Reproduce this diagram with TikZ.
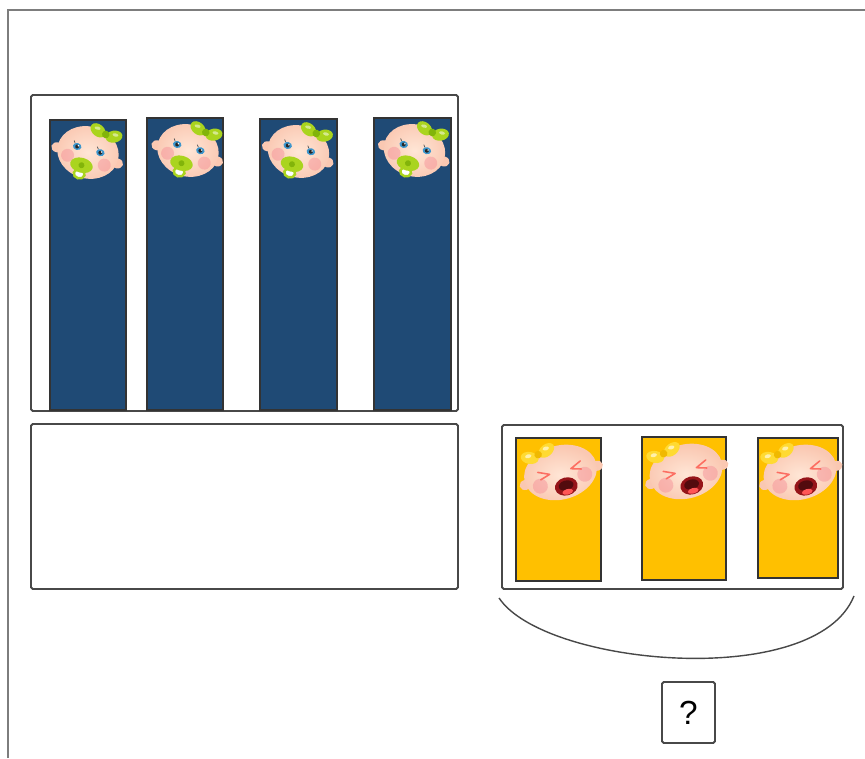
\documentclass[tikz,border=0pt]{standalone}
\usepackage{fontspec}
\setsansfont{Liberation Sans}
\usetikzlibrary{calc,fit}
\definecolor{barblue}{RGB}{31,74,117}
\definecolor{baryellow}{RGB}{255,192,0}
\definecolor{boxgray}{RGB}{72,72,72}
\definecolor{framegray}{RGB}{125,125,125}
\definecolor{skin}{RGB}{250,200,178}
\definecolor{skinlight}{RGB}{255,230,214}
\definecolor{cheekpink}{RGB}{245,140,150}
\definecolor{eyeblue}{RGB}{60,150,205}
\definecolor{bowgreen}{RGB}{170,212,30}
\definecolor{bowgreendark}{RGB}{130,180,10}
\definecolor{bowyellow}{RGB}{255,218,50}
\definecolor{bowyellowdark}{RGB}{240,185,0}
\definecolor{mouthred}{RGB}{150,20,25}
\tikzset{
  outerbox/.style={draw=boxgray, line width=1.1pt, inner sep=0pt, rounded corners=1pt},
  bluebar/.style={draw=black!80, fill=barblue, line width=0.6pt, inner sep=0pt},
  yellowbar/.style={bluebar, fill=baryellow},
  qbox/.style={outerbox, minimum width=1.06cm, minimum height=1.22cm,
               font=\sffamily\fontsize{19}{22}\selectfont},
  frameline/.style={draw=framegray, line width=1.2pt},
  brace/.style={draw=boxgray, line width=0.8pt},
  skinfill/.style={inner color=skinlight, outer color=skin},
  cheek/.style={fill=cheekpink, opacity=0.45},
  eyeline/.style={draw=red!45!skin, line width=0.9pt, line cap=round, line join=round},
  % calm baby with a pacifier, units are pixels, y pointing down
  pacibaby/.pic={
    \fill[skin] (-31,3) ellipse (6 and 5);
    \fill[skin] (31,3) ellipse (6 and 5);
    \shade[skinfill] (0,0) ellipse (31 and 26);
    \fill[cheek] (-19,8) circle (6.5);
    \fill[cheek] (19,8) circle (6.5);
    \foreach \ex in {-12,12} {
      \fill[eyeblue] (\ex,-3) ellipse (4.3 and 3.5);
      \fill[black!85] (\ex,-3) circle (2);
      \fill[white] (\ex+1,-4) circle (0.8);
      \draw[black!70, line width=0.4pt] (\ex-3,-6) -- (\ex-4.5,-8);
    }
    % bow
    \fill[bowgreen, rotate around={-25:(4,-24)}] (4,-24) ellipse (8.5 and 6);
    \fill[bowgreen, rotate around={25:(21,-22)}] (21,-22) ellipse (8.5 and 6);
    \fill[bowgreendark] (12.5,-22) circle (3.8);
    \fill[white, opacity=0.5] (3,-26) ellipse (3 and 1.6);
    \fill[white, opacity=0.5] (22,-24) ellipse (3 and 1.6);
    % pacifier
    \draw[bowgreen, line width=1.4pt, fill=white] (-3,23) ellipse (5.5 and 4.5);
    \fill[bowgreen] (-3,14) ellipse (11.5 and 7.5);
    \fill[bowgreendark] (-3,14) circle (3);
  },
  % crying baby, same units
  cryingbaby/.pic={
    \fill[skin] (-37,3) ellipse (6 and 5);
    \fill[skin] (37,3) ellipse (6 and 5);
    \shade[skinfill] (0,0) ellipse (37 and 27);
    \fill[cheek] (-23,8) circle (7.5);
    \fill[cheek] (23,8) circle (7.5);
    \draw[eyeline] (-22,-6) -- (-11,-1) -- (-21,2);
    \draw[eyeline] (22,-6) -- (11,-1) -- (21,2);
    % open mouth
    \fill[mouthred] (2,15) ellipse (11.5 and 9);
    \fill[mouthred!55!black] (2,14) ellipse (7.5 and 5);
    \fill[red!55!pink] (2,20.5) ellipse (5.5 and 2.8);
    % bow
    \fill[bowyellow, rotate around={-25:(-26,-22)}] (-26,-22) ellipse (9 and 6);
    \fill[bowyellow, rotate around={25:(-8,-25)}] (-8,-25) ellipse (9 and 6);
    \fill[bowyellowdark] (-17,-23) circle (3.8);
    \fill[white, opacity=0.6] (-27,-24) ellipse (3.2 and 1.9);
    \fill[white, opacity=0.6] (-8,-27) ellipse (3.2 and 1.9);
  },
}

\begin{document}
\begin{tikzpicture}[x=0.02cm, y=-0.02cm]
\useasboundingbox (0,0) rectangle (865,758);

% page frame
\draw[frameline] (8,758) -- (8,10) -- (865,10);

% ================= left: four calm babies =================
\node[outerbox, fit={(31,95) (458,411)}] (calmbox) {};
\node[bluebar, fit={(50,120) (126,410)}] (b1) {};
\node[bluebar, fit={(147,118) (223,410)}] (b2) {};
\node[bluebar, fit={(260,119) (337,410)}] (b3) {};
\node[bluebar, fit={(374,118) (451,410)}] (b4) {};
\foreach \b/\dx in {b1/0,b2/3,b3/0,b4/2}
  \pic[rotate=-15] at ($(\b.north)+(\dx,33)$) {pacibaby};

\node[outerbox, fit={(31,424) (458,589)}] (emptybox) {};

% ================= right: three crying babies =================
\node[outerbox, fit={(502,425) (843,589)}] (crybox) {};
\node[yellowbar, fit={(516,438) (601,581)}] (y1) {};
\node[yellowbar, fit={(642,437) (726,580)}] (y2) {};
\node[yellowbar, fit={(758,438) (838,578)}] (y3) {};
\foreach \y in {y1,y2,y3}
  \pic[rotate=15] at ($(\y.north)+(2,35)$) {cryingbaby};

% curve under the crying group
\draw[brace] ($(crybox.south west)+(-2,8)$)
  .. controls ($(crybox.south west)+(43,76)$) and ($(crybox.south east)+(-28,101)$)
  .. ($(crybox.south east)+(10,6)$);

\node[qbox] (qmark) at (688.5,712.5) {?};

\end{tikzpicture}
\end{document}
